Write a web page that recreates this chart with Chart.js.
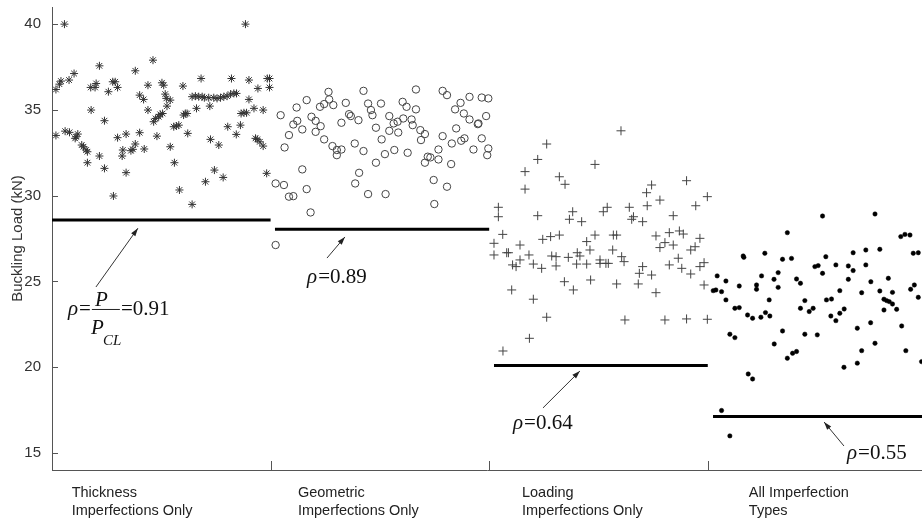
<!DOCTYPE html>
<html>
<head>
<meta charset="utf-8">
<script src="https://cdn.jsdelivr.net/npm/chart.js@4.4.1/dist/chart.umd.min.js"></script>
<style>
  html,body{margin:0;padding:0;background:#fff;}
  #wrap{width:922px;height:523px;position:relative;}
</style>
</head>
<body>
<div id="wrap"><canvas id="c"></canvas></div>
<script>
// ---------------- DATA ----------------
const categories = [
  ['Thickness', 'Imperfections Only'],
  ['Geometric', 'Imperfections Only'],
  ['Loading', 'Imperfections Only'],
  ['All Imperfection', 'Types']
];
const yTicks = [15, 20, 25, 30, 35, 40];
const groupDividers = [100, 200, 300];
const rhoValues = ['0.91', '0.89', '0.64', '0.55'];
const criticalLoads = [28.58, 28.04, 20.09, 17.12];
const criticalRanges = [[0, 100], [102, 200], [202.2, 300], [302.4, 398]];

const thicknessPts = [
[5.7,40.0],[1.8,36.19],[3.4,36.5],[4.1,36.68],[7.8,36.74],[10.1,37.12],
[1.8,33.51],[6.0,33.76],[8.0,33.69],[11.0,33.43],[11.8,33.59],[10.6,33.34],
[13.6,32.95],[14.4,32.85],[15.6,32.66],[16.2,32.56],
[16.2,31.92],[17.9,34.99],[17.7,36.31],[19.7,36.31],[20.2,36.54],[21.7,37.57],[21.7,32.31],[24.0,34.37],[24.0,31.59],
[25.8,36.06],[27.8,36.64],[28.9,36.64],[30.0,36.31],[28.1,29.98],[30.0,33.38],[32.1,32.31],[32.4,32.66],[33.9,33.59],[33.9,31.34],
[36.1,32.62],[37.0,32.70],[38.1,33.01],[38.1,37.28],[40.1,35.86],[40.1,33.67],[41.9,35.61],[42.2,32.72],[43.9,36.44],[43.9,34.99],
[46.2,37.9],[46.5,34.31],[47.4,34.50],[48.8,34.60],[49.5,34.74],[50.6,34.79],[48.0,33.47],[50.3,36.58],[51.1,36.44],[51.8,35.92],
[52.3,35.67],[52.6,35.22],[54.1,35.57],[54.1,32.85],[55.7,34.02],[56.9,34.06],[58.0,34.11],[56.0,31.92],[58.3,30.33],[59.9,36.39],
[60.2,34.70],[61.0,34.79],[61.8,34.79],[62.1,33.63],[64.1,29.49],
[64.1,35.77],[65.6,35.80],[67.1,35.77],[68.7,35.77],[69.7,35.71],[71.7,35.71],[74.0,35.71],[75.5,35.67],[77.1,35.71],[78.6,35.77],
[80.1,35.80],[81.7,35.92],[83.2,35.96],[84.4,35.96],
[66.1,35.09],[68.2,36.83],[70.2,30.81],[72.2,35.22],[72.5,33.28],[74.3,31.49],[76.3,32.95],[78.3,31.06],[80.4,34.02],[82.1,36.83],
[84.3,33.57],[86.2,34.11],[86.5,34.79],[87.8,34.83],[89.0,34.83],[88.5,40.0],[90.1,36.74],[90.1,35.61],[92.4,35.09],[93.1,33.34],
[93.9,33.28],[95.1,33.14],[96.6,32.89],[94.2,36.25],[96.6,34.99],[98.2,31.30],[98.5,36.83],[99.5,36.83],[99.5,36.31]
];

const geometricPts = [
[102.3,27.12],[102.3,30.71],[106.1,30.62],[108.4,29.94],[110.4,29.97],[118.3,29.02],[114.5,31.53],[116.5,30.38],
[104.6,34.69],[106.4,32.81],[108.4,33.53],[110.4,34.15],[112.2,34.36],[111.9,35.14],[114.5,33.86],[116.5,35.57],
[118.7,34.60],[120.6,34.36],[120.6,33.72],[122.9,34.05],[122.6,35.18],[124.5,35.34],[126.5,36.05],[126.8,35.61],[128.7,35.28],
[124.5,33.28],[128.3,32.89],[130.3,32.66],[130.3,32.36],[132.4,32.69],[132.4,34.25],[134.4,35.41],[135.9,34.75],[136.7,34.64],
[138.5,33.04],[140.2,34.40],[142.5,36.11],[142.5,32.60],[140.5,31.33],[138.7,30.71],[144.6,35.37],[145.9,34.99],[146.6,34.69],
[148.2,33.96],[150.5,35.37],[150.8,33.28],[148.2,31.92],[144.6,30.09],[152.6,30.09],[152.3,32.42],[154.3,34.64],[154.3,33.78],
[156.3,34.21],[156.6,32.66],[158.1,34.31],[158.4,33.68],[160.4,35.47],[160.7,34.50],[162.2,35.18],[162.7,32.50],[164.5,34.44],
[165.0,34.11],[166.5,35.03],[166.5,36.19],[168.5,33.82],[168.8,33.24],[170.6,33.59],[170.6,31.92],[171.9,32.27],[173.1,32.23],
[174.6,30.91],[174.9,29.51],[176.8,32.69],[176.8,32.11],[178.7,33.47],[178.7,36.11],[180.7,35.86],[180.7,30.52],[182.6,31.84],
[182.9,33.04],[184.4,35.03],[184.9,33.92],[186.9,35.41],[187.2,33.20],[188.4,34.79],[188.7,33.34],[191.0,35.76],[191.0,34.44],
[192.8,32.69],[194.8,34.17],[195.1,34.21],[196.6,33.34],[196.6,35.72],[198.6,34.64],[199.6,35.67],[199.6,32.75],[199.1,32.36]
];

const loadingPts = [
[260.3,33.78],[226.3,33.01],[222.2,32.11],[248.4,31.82],[216.4,31.40],[216.4,30.38],[232.1,31.10],[234.7,30.66],[274.3,30.62],
[272.0,30.17],[290.3,30.87],[299.8,29.94],[278.1,29.74],[272.3,29.41],[294.5,29.41],[204.2,29.32],[204.2,28.77],[222.2,28.83],
[238.2,29.06],[236.7,28.62],[242.3,28.48],[252.2,29.06],[254.0,29.32],[264.1,29.32],[266.0,28.77],[265.2,28.62],[270.2,28.48],
[284.2,28.83],[206.2,27.74],[202.2,27.22],[202.2,26.54],[208.0,26.67],[208.8,26.67],[214.1,27.12],[218.2,26.54],[210.7,25.96],
[212.3,25.86],[214.1,26.25],[220.2,26.01],[224.0,25.76],[224.5,27.45],[228.1,27.61],[232.1,27.70],[228.6,26.48],[230.6,26.44],
[230.6,25.90],[236.2,26.40],[240.3,26.67],[241.5,26.48],[240.0,26.01],[244.6,26.01],[244.6,27.32],[248.4,27.70],[246.1,26.83],
[250.7,26.25],[250.7,26.05],[253.4,26.05],[254.5,26.05],[256.5,26.83],[256.8,27.70],[258.3,27.70],[260.6,26.44],[261.7,26.15],
[270.2,25.86],[268.7,25.47],[274.3,25.37],[276.3,27.65],[280.4,27.26],[278.1,26.97],[282.4,27.84],[284.2,27.12],[287.0,27.94],
[288.8,27.76],[286.5,26.35],[282.4,25.96],[288.1,25.76],[292.2,25.43],[292.2,26.83],[294.2,27.02],[296.4,27.51],[296.4,25.86],
[298.3,26.09],[210.3,24.50],[220.2,23.96],[226.3,22.91],[234.4,24.98],[238.5,24.50],[246.4,25.08],[258.3,24.85],[268.2,24.85],
[276.3,24.34],[262.1,22.75],[280.4,22.75],[290.3,22.81],[299.8,22.79],[298.3,24.79],[218.4,21.68],[206.3,20.94]
];

const allTypesPts = [
[352.5,28.81],[376.5,28.93],[336.4,27.84],[388.3,27.61],[390.2,27.74],[392.5,27.70],[316.2,26.48],[316.5,26.40],[326.1,26.64],
[334.2,26.29],[338.3,26.34],[354.0,26.44],[366.5,26.67],[372.3,26.83],[378.7,26.87],[394.0,26.64],[396.3,26.67],[304.3,25.32],
[308.3,25.02],[302.5,24.46],[303.7,24.50],[306.3,24.40],[308.3,23.92],[314.4,24.73],[312.4,23.43],[314.4,23.47],[322.3,24.79],
[322.3,24.54],[324.6,25.32],[330.3,25.12],[332.2,25.51],[332.2,24.65],[328.1,23.92],[340.6,25.14],[342.4,24.89],[349.0,25.86],
[350.5,25.92],[352.5,25.47],[358.6,25.96],[364.3,25.90],[366.5,25.63],[372.3,25.96],[364.3,25.12],[374.6,24.98],[382.6,25.18],
[394.5,24.79],[392.8,24.54],[396.3,24.07],[360.4,24.46],[370.4,24.34],[378.7,24.44],[384.5,24.36],[380.6,23.96],[381.8,23.88],
[383.0,23.82],[384.5,23.68],[386.4,23.37],[380.6,23.33],[344.4,23.88],[342.4,23.43],[346.4,23.24],[348.2,23.43],[354.3,23.92],
[356.6,23.97],[356.3,22.98],[358.6,22.71],[360.4,23.14],[362.4,23.39],[318.2,23.04],[320.5,22.85],[324.3,22.91],[326.4,23.18],
[328.4,22.98],[310.1,21.92],[312.4,21.72],[334.2,22.11],[330.4,21.35],[344.4,21.92],[350.1,21.88],[336.4,20.52],[338.8,20.81],
[340.6,20.91],[368.4,22.27],[374.5,22.59],[376.5,21.39],[370.4,20.96],[362.3,19.99],[368.4,20.23],[388.7,22.40],[390.6,20.96],
[397.8,20.32],[318.5,19.60],[320.5,19.31],[306.3,17.47],[310.1,15.99]
];

// ---------------- LAYOUT (annotation placement, data units) ----------------
const labelX = [9.0, 112.5, 215.0, 318.8];
const rhoText = [
  {x: 7.3,   y: 23.04, fraction: true},
  {x: 116.7, y: 24.9},
  {x: 210.9, y: 16.39},
  {x: 363.7, y: 14.64}
];
const arrows = [
  {from: [20.1, 24.67], to: [39.3, 28.1]},
  {from: [125.8, 26.36], to: [134.0, 27.59]},
  {from: [224.6, 17.62], to: [241.5, 19.77]},
  {from: [362.3, 15.40], to: [353.2, 16.80]}
];

const toXY = arr => arr.map(p => ({x: p[0], y: p[1]}));

const lineSets = criticalLoads.map((v, i) => ({
  type: 'scatter',
  data: [{x: criticalRanges[i][0], y: v}, {x: criticalRanges[i][1], y: v}],
  showLine: true,
  borderColor: '#000',
  borderWidth: 3,
  pointRadius: 0,
  order: 0
}));

const SANS = '"Liberation Sans", Arial, sans-serif';
const SERIF = '"Liberation Serif", "Times New Roman", serif';

function arrowHead(ctx, x1, y1, x2, y2) {
  const ang = Math.atan2(y2 - y1, x2 - x1);
  const L = 8, W = 2.6;
  ctx.beginPath();
  ctx.moveTo(x2, y2);
  ctx.lineTo(x2 - L * Math.cos(ang) + W * Math.sin(ang), y2 - L * Math.sin(ang) - W * Math.cos(ang));
  ctx.lineTo(x2 - L * Math.cos(ang) - W * Math.sin(ang), y2 - L * Math.sin(ang) + W * Math.cos(ang));
  ctx.closePath();
  ctx.fill();
}

const overlay = {
  id: 'overlay',
  afterDraw(chart) {
    const {ctx, chartArea: a, scales: {x, y}} = chart;
    ctx.save();
    // inward y ticks
    ctx.strokeStyle = '#555';
    ctx.lineWidth = 1;
    ctx.beginPath();
    yTicks.forEach(v => {
      const py = Math.round(y.getPixelForValue(v)) + 0.5;
      ctx.moveTo(a.left, py); ctx.lineTo(a.left + 6, py);
    });
    groupDividers.forEach(v => {
      const px = Math.round(x.getPixelForValue(v)) + 0.5;
      ctx.moveTo(px, a.bottom); ctx.lineTo(px, a.bottom - 9);
    });
    ctx.stroke();

    // y title
    ctx.save();
    ctx.translate(18, (a.top + a.bottom) / 2);
    ctx.rotate(-Math.PI / 2);
    ctx.fillStyle = '#333';
    ctx.font = '15px ' + SANS;
    ctx.textAlign = 'center';
    ctx.textBaseline = 'middle';
    ctx.fillText('Buckling Load (kN)', 0, 0);
    ctx.restore();

    // category labels
    ctx.fillStyle = '#222';
    ctx.font = '14.5px ' + SANS;
    ctx.textAlign = 'left';
    ctx.textBaseline = 'middle';
    categories.forEach((lines, i) => {
      const px = x.getPixelForValue(labelX[i]);
      lines.forEach((t, j) => ctx.fillText(t, px, a.bottom + 23 + j * 18));
    });

    // arrows
    ctx.strokeStyle = '#333';
    ctx.fillStyle = '#222';
    ctx.lineWidth = 1;
    arrows.forEach(ar => {
      const x1 = x.getPixelForValue(ar.from[0]), y1 = y.getPixelForValue(ar.from[1]);
      const x2 = x.getPixelForValue(ar.to[0]), y2 = y.getPixelForValue(ar.to[1]);
      ctx.beginPath(); ctx.moveTo(x1, y1); ctx.lineTo(x2, y2); ctx.stroke();
      arrowHead(ctx, x1, y1, x2, y2);
    });

    // rho labels
    ctx.fillStyle = '#111';
    ctx.textBaseline = 'alphabetic';
    ctx.textAlign = 'left';
    rhoText.forEach((r, i) => {
      let px = x.getPixelForValue(r.x);
      const py = y.getPixelForValue(r.y);
      ctx.font = 'italic 21px ' + SERIF;
      ctx.fillText('ρ', px, py);
      px += ctx.measureText('ρ').width + 1;
      ctx.font = '21px ' + SERIF;
      ctx.fillText('=', px, py);
      px += ctx.measureText('=').width;
      if (r.fraction) {
        const fx = px + 1;
        ctx.font = 'italic 21px ' + SERIF;
        ctx.fillText('P', fx + 3, py - 9);
        ctx.fillText('P', fx - 1, py + 19);
        ctx.font = 'italic 15px ' + SERIF;
        ctx.fillText('CL', fx + 11, py + 30);
        ctx.strokeStyle = '#222';
        ctx.beginPath();
        ctx.moveTo(fx, py - 5.5); ctx.lineTo(fx + 28, py - 5.5); ctx.stroke();
        px = fx + 29;
        ctx.font = '21px ' + SERIF;
        ctx.fillText('=', px, py);
        px += ctx.measureText('=').width;
      }
      ctx.font = '21px ' + SERIF;
      ctx.fillText(rhoValues[i], px, py);
    });
    ctx.restore();
  }
};

new Chart(document.getElementById('c'), {
  type: 'scatter',
  data: {
    datasets: [
      ...lineSets,
      {data: toXY(thicknessPts), pointStyle: 'star', pointRadius: 4, borderColor: '#333', backgroundColor: '#333', borderWidth: 1, order: 1},
      {data: toXY(geometricPts), pointStyle: 'circle', pointRadius: 3.7, borderColor: '#444', backgroundColor: 'rgba(0,0,0,0)', borderWidth: 1, order: 1},
      {data: toXY(loadingPts), pointStyle: 'cross', pointRadius: 4.5, borderColor: '#444', backgroundColor: '#444', borderWidth: 1, order: 1},
      {data: toXY(allTypesPts), pointStyle: 'circle', pointRadius: 2.2, borderColor: '#000', backgroundColor: '#000', borderWidth: 0.5, order: 1}
    ]
  },
  options: {
    responsive: true,
    maintainAspectRatio: false,
    animation: false,
    devicePixelRatio: 1,
    layout: {autoPadding: false, padding: {left: 0, right: 0, top: 7, bottom: 0}},
    plugins: {legend: {display: false}, tooltip: {enabled: false}},
    scales: {
      x: {
        type: 'linear', min: 0, max: 398,
        grid: {display: false},
        border: {display: true, color: '#555', width: 1},
        ticks: {display: false},
        afterFit: s => { s.height = 53; s.paddingLeft = 0; s.paddingRight = 0; }
      },
      y: {
        type: 'linear', min: 14, max: 41,
        grid: {display: false},
        border: {display: true, color: '#555', width: 1},
        ticks: {font: {family: SANS, size: 15}, color: '#333', padding: 3},
        afterBuildTicks: s => { s.ticks = yTicks.map(v => ({value: v})); },
        afterFit: s => { s.width = 52; s.paddingTop = 0; s.paddingBottom = 0; }
      }
    }
  },
  plugins: [overlay]
});
</script>
</body>
</html>
